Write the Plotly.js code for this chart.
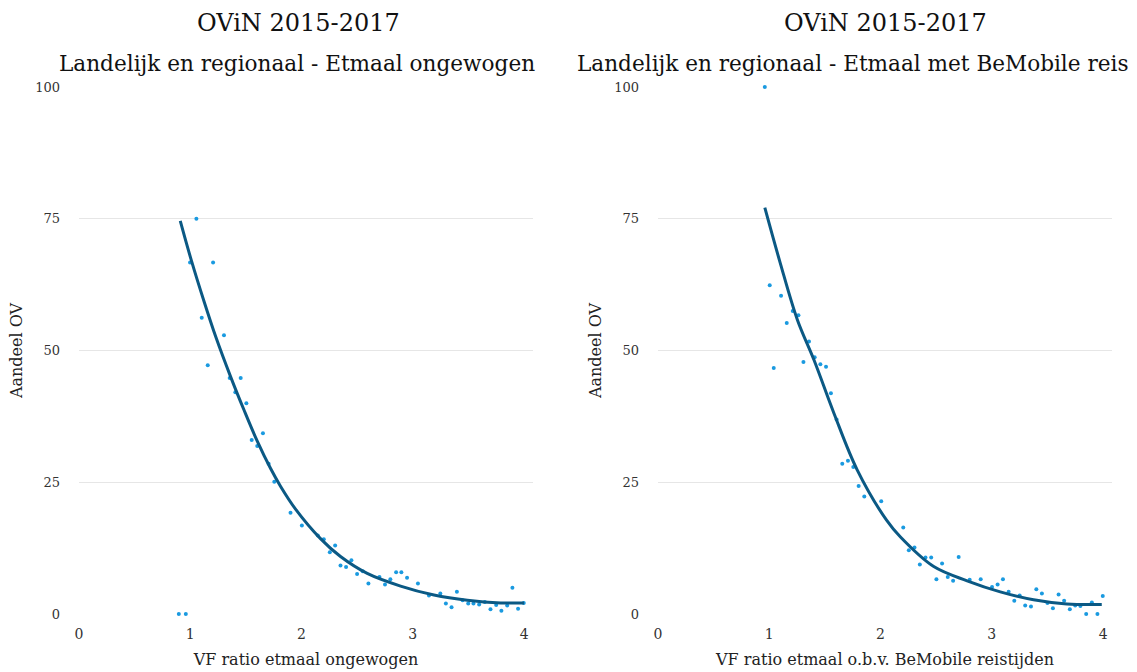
<!DOCTYPE html>
<html>
<head>
<meta charset="utf-8">
<script src="https://cdn.plot.ly/plotly-3.0.1.min.js"></script>
<style>html,body{margin:0;padding:0;background:#fff;}#chart{width:1137px;height:672px;}</style>
</head>
<body>
<div id="chart"></div>
<script>
// Left panel: VF ratio etmaal ongewogen vs Aandeel OV
const leftX = [0.897, 0.96, 0.998, 1.055, 1.103, 1.157, 1.205, 1.303, 1.354, 1.405, 1.453, 1.504, 1.552, 1.602, 1.653, 1.704, 1.755, 1.901, 2.003, 2.146, 2.2, 2.254, 2.302, 2.35, 2.4, 2.448, 2.499, 2.55, 2.601, 2.7, 2.75, 2.798, 2.85, 2.897, 2.948, 3.046, 3.145, 3.247, 3.297, 3.348, 3.396, 3.447, 3.498, 3.545, 3.596, 3.647, 3.698, 3.749, 3.796, 3.848, 3.895, 3.946, 3.997];
const leftY = [0, 0, 66.7, 75.0, 56.2, 47.2, 66.7, 52.9, 44.8, 42.1, 44.8, 40.0, 33.0, 31.9, 34.3, 28.5, 25.1, 19.2, 16.8, 14.9, 14.2, 11.7, 13.0, 9.2, 8.9, 10.2, 7.6, 8.1, 5.8, 7.0, 5.6, 6.6, 7.9, 7.9, 6.9, 5.8, 3.5, 3.9, 2.0, 1.3, 4.2, 2.6, 2.0, 2.0, 1.8, 2.3, 0.9, 1.7, 0.6, 1.6, 5.0, 1.0, 2.1];
const leftFitX = [0.91, 1.011, 1.124, 1.229, 1.363, 1.483, 1.602, 1.722, 1.812, 1.946, 2.17, 2.35, 2.59, 2.89, 3.19, 3.49, 3.79, 4.0];
const leftFitY = [74.6, 67.0, 59.3, 52.6, 45.0, 38.7, 32.8, 27.6, 24.2, 19.9, 14.3, 10.9, 7.7, 5.3, 3.6, 2.6, 2.1, 2.1];

// Right panel: VF ratio etmaal o.b.v. BeMobile reistijden vs Aandeel OV
const rightX = [0.96, 1.004, 1.04, 1.106, 1.157, 1.211, 1.262, 1.307, 1.357, 1.408, 1.459, 1.51, 1.554, 1.605, 1.656, 1.707, 1.755, 1.803, 1.854, 2.006, 2.204, 2.254, 2.305, 2.353, 2.404, 2.455, 2.502, 2.553, 2.604, 2.652, 2.702, 2.801, 2.9, 3.002, 3.052, 3.1, 3.151, 3.202, 3.25, 3.3, 3.352, 3.4, 3.45, 3.5, 3.549, 3.6, 3.65, 3.701, 3.749, 3.796, 3.848, 3.899, 3.949, 3.997];
const rightY = [100, 62.4, 46.7, 60.4, 55.2, 57.5, 56.7, 47.8, 51.7, 48.7, 47.4, 46.9, 41.9, 36.9, 28.5, 29.1, 27.9, 24.3, 22.3, 21.4, 16.4, 12.1, 12.6, 9.4, 10.7, 10.7, 6.6, 9.6, 7.0, 6.3, 10.8, 6.5, 6.6, 5.1, 5.6, 6.6, 4.2, 2.5, 3.5, 1.6, 1.4, 4.7, 3.9, 2.1, 1.1, 3.7, 2.5, 0.9, 1.6, 1.5, 0.0, 2.2, 0.0, 3.4];
const rightFitX = [0.96, 1.1, 1.253, 1.402, 1.581, 1.791, 2.054, 2.179, 2.478, 2.778, 3.076, 3.375, 3.674, 3.988];
const rightFitY = [77.1, 66.5, 55.8, 48.2, 38.1, 27.3, 17.8, 14.6, 9.0, 6.3, 4.2, 2.7, 1.9, 1.8];

const xTicks = [0, 1, 2, 3, 4];
const yTicks = [0, 25, 50, 75, 100];

const FONT = 'DejaVu Serif, Georgia, serif';
const pointColor = '#1a9ae0';
const lineColor = '#0b5984';

const traces = [
  {x: leftX, y: leftY, type: 'scatter', mode: 'markers', xaxis: 'x', yaxis: 'y',
   marker: {color: pointColor, size: 4}, cliponaxis: false, hoverinfo: 'x+y'},
  {x: leftFitX, y: leftFitY, type: 'scatter', mode: 'lines', xaxis: 'x', yaxis: 'y',
   line: {color: lineColor, width: 3, shape: 'spline', smoothing: 1}, hoverinfo: 'skip'},
  {x: rightX, y: rightY, type: 'scatter', mode: 'markers', xaxis: 'x2', yaxis: 'y2',
   marker: {color: pointColor, size: 4}, cliponaxis: false, hoverinfo: 'x+y'},
  {x: rightFitX, y: rightFitY, type: 'scatter', mode: 'lines', xaxis: 'x2', yaxis: 'y2',
   line: {color: lineColor, width: 3, shape: 'spline', smoothing: 1}, hoverinfo: 'skip'}
];

const W = 1137, H = 672;
const px = v => v / W;
const py = v => 1 - v / H;

function xAxis(d0, d1, titleText, anchor) {
  return {
    domain: [px(d0), px(d1)], range: [0, 4.08], tickvals: xTicks, ticktext: xTicks.map(String),
    showgrid: false, zeroline: false, showline: false, ticks: '', ticklabelstandoff: 10,
    anchor: anchor,
    tickfont: {family: FONT, size: 14, color: '#333'}, automargin: false, fixedrange: true,
    title: {text: titleText, font: {family: FONT, size: 16, color: '#222'}, standoff: 12}
  };
}
function yAxis(anchor) {
  return {
    domain: [py(614), py(87)], range: [0, 100], tickvals: yTicks, ticktext: yTicks.map(String),
    showgrid: true, gridcolor: '#e6e6e6', gridwidth: 1, zeroline: false, showline: false,
    ticks: '', ticklabelstandoff: 18, anchor: anchor,
    tickfont: {family: FONT, size: 13, color: '#333'}, automargin: false, fixedrange: true,
    title: {text: 'Aandeel OV', font: {family: FONT, size: 16, color: '#222'}, standoff: 8}
  };
}

const layout = {
  width: W, height: H,
  margin: {l: 0, r: 0, t: 0, b: 0, pad: 0},
  paper_bgcolor: '#ffffff', plot_bgcolor: '#ffffff',
  showlegend: false,
  font: {family: FONT, color: '#222'},
  xaxis: xAxis(79, 533, 'VF ratio etmaal ongewogen', 'y'),
  yaxis: yAxis('x'),
  xaxis2: xAxis(658, 1112, 'VF ratio etmaal o.b.v. BeMobile reistijden', 'y2'),
  yaxis2: yAxis('x2'),
  annotations: [
    {text: 'OViN 2015-2017', xref: 'paper', yref: 'paper', x: px(298), y: py(23), xanchor: 'center', yanchor: 'middle', showarrow: false, font: {family: FONT, size: 24, color: '#111'}},
    {text: 'Landelijk en regionaal - Etmaal ongewogen', xref: 'paper', yref: 'paper', x: px(297), y: py(63), xanchor: 'center', yanchor: 'middle', showarrow: false, font: {family: FONT, size: 21.6, color: '#111'}},
    {text: 'OViN 2015-2017', xref: 'paper', yref: 'paper', x: px(885), y: py(23), xanchor: 'center', yanchor: 'middle', showarrow: false, font: {family: FONT, size: 24, color: '#111'}},
    {text: 'Landelijk en regionaal - Etmaal met BeMobile reis', xref: 'paper', yref: 'paper', x: px(575), y: py(63), xanchor: 'left', yanchor: 'middle', showarrow: false, font: {family: FONT, size: 21.6, color: '#111'}}
  ]
};

Plotly.newPlot('chart', traces, layout, {displayModeBar: false, staticPlot: true});
</script>
</body>
</html>
